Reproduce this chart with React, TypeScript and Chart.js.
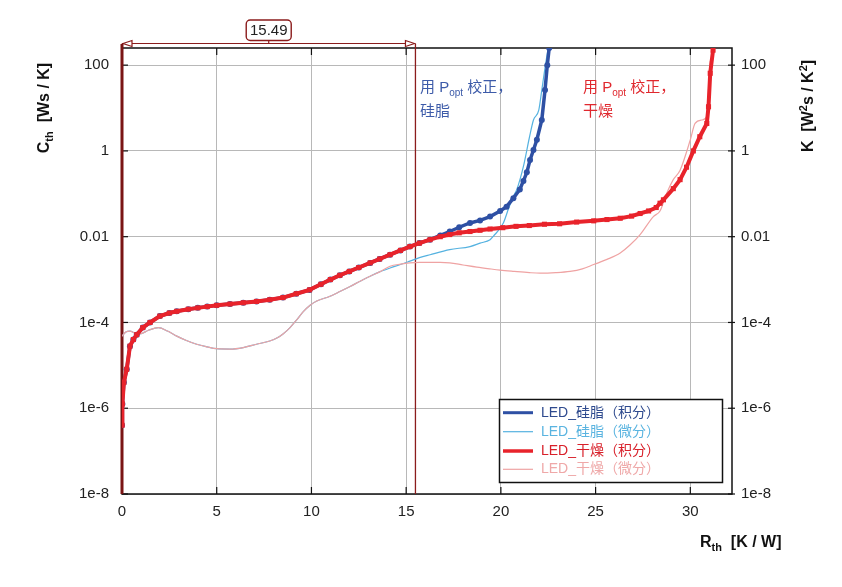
import React, { useEffect, useRef } from "react";
import { Chart, registerables } from "chart.js";
Chart.register(...registerables);

// ---- axes ----
const X_MIN = 0;
const X_MAX = 32.2;
const Y_MIN = 1e-8;
const Y_MAX = 251;
const X_TICKS = [0, 5, 10, 15, 20, 25, 30];
const Y_TICKS = [1e-8, 1e-6, 1e-4, 1e-2, 1, 100];
const Y_TICK_LABELS = ["1e-8", "1e-6", "1e-4", "0.01", "1", "100"];
const MARKER_X = 15.49;
const MARKER_LABEL = "15.49";

// ---- series names ----
const SERIES_NAMES = ["LED_硅脂（积分）", "LED_硅脂（微分）", "LED_干燥（积分）", "LED_干燥（微分）"];

// ---- LED 干燥 (积分) ----
const dryIntX = [0, 0.02, 0.1, 0.25, 0.42, 0.6, 0.78, 1.1, 1.48, 2.0, 2.5, 2.89, 3.5, 4.0, 4.5, 5.0, 5.7, 6.4, 7.1, 7.8, 8.5, 9.2, 9.9, 10.5, 11.0, 11.5, 12.0, 12.5, 13.1, 13.6, 14.15, 14.7, 15.2, 15.7, 16.26, 16.8, 17.3, 17.8, 18.37, 18.9, 19.43, 20.1, 20.8, 21.5, 22.3, 23.1, 24.0, 24.9, 25.6, 26.3, 26.9, 27.35, 27.8, 28.2, 28.4, 28.58, 29.1, 29.46, 29.8, 30.16, 30.5, 30.87, 30.96, 31.05, 31.2];
const dryIntY = [4e-7, 1.26e-6, 4e-6, 8.1e-6, 2.8e-5, 4e-5, 5.2e-5, 7.6e-5, 1e-4, 1.41e-4, 1.66e-4, 1.82e-4, 2.04e-4, 2.19e-4, 2.34e-4, 2.51e-4, 2.69e-4, 2.88e-4, 3.09e-4, 3.39e-4, 3.8e-4, 4.68e-4, 5.75e-4, 7.76e-4, 1e-3, 1.26e-3, 1.55e-3, 1.91e-3, 2.45e-3, 3.02e-3, 3.8e-3, 4.79e-3, 5.89e-3, 7.08e-3, 8.51e-3, 1e-2, 1.12e-2, 1.23e-2, 1.32e-2, 1.41e-2, 1.51e-2, 1.62e-2, 1.74e-2, 1.82e-2, 1.95e-2, 2e-2, 2.19e-2, 2.34e-2, 2.51e-2, 2.69e-2, 3.02e-2, 3.47e-2, 3.98e-2, 4.79e-2, 6.03e-2, 7.24e-2, 0.132, 0.214, 0.417, 1.0, 2.14, 4.37, 10.7, 64.6, 224];

// ---- LED 硅脂 (积分) ----
const greaseIntX = [0, 0.02, 0.1, 0.25, 0.42, 0.6, 0.78, 1.1, 1.48, 2.0, 2.5, 2.89, 3.5, 4.0, 4.5, 5.0, 5.7, 6.4, 7.1, 7.8, 8.5, 9.2, 9.9, 10.5, 11.0, 11.5, 12.0, 12.5, 13.1, 13.6, 14.15, 14.7, 15.2, 15.7, 16.26, 16.8, 17.3, 17.8, 18.37, 18.9, 19.43, 19.96, 20.3, 20.66, 21.0, 21.19, 21.37, 21.54, 21.72, 21.9, 22.16, 22.33, 22.45, 22.55];
const greaseIntY = [4e-7, 1.26e-6, 4e-6, 8.1e-6, 2.8e-5, 4e-5, 5.2e-5, 7.6e-5, 1e-4, 1.41e-4, 1.66e-4, 1.82e-4, 2.04e-4, 2.19e-4, 2.34e-4, 2.51e-4, 2.69e-4, 2.88e-4, 3.09e-4, 3.39e-4, 3.8e-4, 4.68e-4, 5.75e-4, 7.76e-4, 1e-3, 1.26e-3, 1.55e-3, 1.91e-3, 2.45e-3, 3.02e-3, 3.8e-3, 4.79e-3, 5.89e-3, 7.08e-3, 8.51e-3, 1.07e-2, 1.32e-2, 1.66e-2, 2.09e-2, 2.4e-2, 2.95e-2, 3.98e-2, 5.0e-2, 7.9e-2, 0.126, 0.2, 0.316, 0.617, 1.05, 1.82, 5.25, 26.3, 100, 251];

// ---- LED 硅脂 (微分) ----
const greaseDiffX = [0, 0.2, 0.42, 0.7, 0.95, 1.4, 1.92, 2.4, 2.89, 3.4, 3.94, 4.5, 5.0, 5.7, 6.4, 7.1, 7.8, 8.2, 8.5, 8.87, 9.2, 9.57, 9.93, 10.28, 10.98, 11.5, 12.04, 12.6, 13.1, 13.6, 14.15, 14.7, 15.2, 15.7, 16.26, 17.3, 18.37, 18.9, 19.43, 19.6, 20.13, 20.4, 20.66, 20.84, 21.19, 21.5, 21.72, 22.0, 22.16, 22.35, 22.5];
const greaseDiffY = [4.8e-5, 6.0e-5, 6.3e-5, 5.6e-5, 5.4e-5, 6.6e-5, 7.6e-5, 6.3e-5, 4.8e-5, 3.8e-5, 3.1e-5, 2.7e-5, 2.45e-5, 2.4e-5, 2.6e-5, 3.1e-5, 3.7e-5, 4.4e-5, 5.4e-5, 7.6e-5, 1.12e-4, 1.78e-4, 2.51e-4, 3.16e-4, 4.07e-4, 5.25e-4, 6.9e-4, 9.3e-4, 1.2e-3, 1.51e-3, 1.86e-3, 2.24e-3, 2.69e-3, 3.24e-3, 3.8e-3, 5.0e-3, 5.89e-3, 7.08e-3, 8.51e-3, 1.02e-2, 2.09e-2, 4.47e-2, 8.7e-2, 0.126, 0.437, 2.0, 5.25, 8.9, 26.3, 100, 251];

// ---- LED 干燥 (微分) ----
const dryDiffX = [0, 0.2, 0.42, 0.7, 0.95, 1.4, 1.92, 2.4, 2.89, 3.4, 3.94, 4.5, 5.0, 5.7, 6.4, 7.1, 7.8, 8.2, 8.5, 8.87, 9.2, 9.57, 9.93, 10.28, 10.98, 11.5, 12.04, 12.6, 13.1, 13.6, 14.15, 14.7, 15.2, 15.7, 16.26, 16.8, 17.3, 18.0, 18.73, 19.4, 19.96, 20.7, 21.5, 22.07, 22.9, 23.65, 24.3, 24.9, 25.6, 26.3, 26.8, 27.35, 28.05, 28.4, 28.76, 29.1, 29.46, 30.0, 30.25, 30.6, 30.87, 30.96, 31.05];
const dryDiffY = [4.8e-5, 6.0e-5, 6.3e-5, 5.6e-5, 5.4e-5, 6.6e-5, 7.6e-5, 6.3e-5, 4.8e-5, 3.8e-5, 3.1e-5, 2.7e-5, 2.45e-5, 2.4e-5, 2.6e-5, 3.1e-5, 3.7e-5, 4.4e-5, 5.4e-5, 7.6e-5, 1.12e-4, 1.78e-4, 2.51e-4, 3.16e-4, 4.07e-4, 5.25e-4, 6.9e-4, 9.3e-4, 1.2e-3, 1.51e-3, 2.04e-3, 2.29e-3, 2.45e-3, 2.51e-3, 2.51e-3, 2.51e-3, 2.45e-3, 2.19e-3, 1.95e-3, 1.78e-3, 1.66e-3, 1.55e-3, 1.45e-3, 1.41e-3, 1.45e-3, 1.55e-3, 1.78e-3, 2.24e-3, 2.95e-3, 4.17e-3, 6.3e-3, 1.12e-2, 2.95e-2, 3.98e-2, 0.105, 0.214, 0.355, 1.82, 4.37, 5.25, 6.3, 26.3, 126];

// ---- colours ----
const C_GREASE_INT = "#2E50A4";
const C_GREASE_DIFF = "#55B2E0";
const C_DRY_INT = "#E8232B";
const C_DRY_DIFF = "#EFA3A3";
const C_MARK = "#8B1C1C";

const SANS = '"Liberation Sans", Arial, "Noto Sans CJK SC", sans-serif';

const zip = (xs: number[], ys: number[]) => xs.map((x, i) => ({ x, y: ys[i] }));

type Part = { t: string; f: string; dy?: number };
function richWidth(ctx: CanvasRenderingContext2D, parts: Part[]) {
  let w = 0;
  for (const p of parts) {
    ctx.font = p.f;
    w += ctx.measureText(p.t).width;
  }
  return w;
}
function drawRich(ctx: CanvasRenderingContext2D, parts: Part[], x: number, y: number, color: string) {
  ctx.fillStyle = color;
  ctx.textBaseline = "middle";
  ctx.textAlign = "left";
  let cx = x;
  for (const p of parts) {
    ctx.font = p.f;
    ctx.fillText(p.t, cx, y + (p.dy || 0));
    cx += ctx.measureText(p.t).width;
  }
}
function line(ctx: CanvasRenderingContext2D, x1: number, y1: number, x2: number, y2: number) {
  ctx.beginPath();
  ctx.moveTo(x1, y1);
  ctx.lineTo(x2, y2);
  ctx.stroke();
}

const overlay = {
  id: "overlay",
  beforeDatasetsDraw(chart: any) {
    const { ctx, chartArea: a, scales } = chart;
    const x0 = scales.x.getPixelForValue(0);
    const xm = scales.x.getPixelForValue(MARKER_X);
    ctx.save();
    ctx.strokeStyle = "#111";
    ctx.lineWidth = 1.5;
    ctx.strokeRect(a.left, a.top, a.right - a.left, a.bottom - a.top);
    ctx.lineWidth = 1.2;
    for (const v of X_TICKS) {
      const px = scales.x.getPixelForValue(v);
      line(ctx, px, a.top, px, a.top + 7);
      line(ctx, px, a.bottom, px, a.bottom - 7);
    }
    for (const v of Y_TICKS) {
      const py = scales.y.getPixelForValue(v);
      line(ctx, a.left, py, a.left + 6, py);
      line(ctx, a.right - 4, py, a.right + 3, py);
    }
    ctx.strokeStyle = C_MARK;
    ctx.lineWidth = 1.3;
    line(ctx, xm, 44, xm, a.bottom);
    ctx.strokeStyle = "#7A1515";
    ctx.lineWidth = 3;
    line(ctx, x0, 44, x0, a.bottom);
    ctx.restore();
  },
  afterDraw(chart: any) {
    const { ctx, scales } = chart;
    const x0 = scales.x.getPixelForValue(0);
    const xm = scales.x.getPixelForValue(MARKER_X);
    ctx.save();

    // dimension arrow
    const ay = 43.5;
    ctx.strokeStyle = C_MARK;
    ctx.lineWidth = 1.2;
    line(ctx, x0, ay, xm, ay);
    ctx.fillStyle = "#fff";
    ctx.beginPath();
    ctx.moveTo(x0 + 1, ay);
    ctx.lineTo(x0 + 10, ay - 3);
    ctx.lineTo(x0 + 10, ay + 3);
    ctx.closePath();
    ctx.fill();
    ctx.stroke();
    ctx.beginPath();
    ctx.moveTo(xm - 1, ay);
    ctx.lineTo(xm - 10, ay - 3);
    ctx.lineTo(xm - 10, ay + 3);
    ctx.closePath();
    ctx.fill();
    ctx.stroke();
    const cx = (x0 + xm) / 2;
    const bw = 45, bh = 20.5, by = 20;
    ctx.beginPath();
    ctx.roundRect(cx - bw / 2, by, bw, bh, 4);
    ctx.fillStyle = "#fff";
    ctx.fill();
    ctx.lineWidth = 1.4;
    ctx.stroke();
    ctx.lineWidth = 1.2;
    line(ctx, cx, by + bh, cx, ay);
    ctx.fillStyle = "#222";
    ctx.font = "15px " + SANS;
    ctx.textAlign = "center";
    ctx.textBaseline = "middle";
    ctx.fillText(MARKER_LABEL, cx, by + bh / 2 + 0.5);

    // annotations
    const annFont = "15px " + SANS;
    const subFont = "10px " + SANS;
    const ann = (x: number, color: string, second: string) => {
      drawRich(ctx, [{ t: "用 P", f: annFont }, { t: "opt", f: subFont, dy: 5 }, { t: " 校正，", f: annFont }], x, 88, color);
      drawRich(ctx, [{ t: second, f: annFont }], x, 112, color);
    };
    ann(420, "#3D5BA9", "硅脂");
    ann(583, "#E0282E", "干燥");

    // axis titles
    const tb = "bold 16px " + SANS;
    const ts = "bold 11px " + SANS;
    const left: Part[] = [{ t: "C", f: tb }, { t: "th", f: ts, dy: 5 }, { t: "  [Ws / K]", f: tb }];
    ctx.save();
    ctx.translate(45, 108);
    ctx.rotate(-Math.PI / 2);
    drawRich(ctx, left, -richWidth(ctx, left) / 2, 0, "#111");
    ctx.restore();
    const right: Part[] = [{ t: "K  [W", f: tb }, { t: "2", f: ts, dy: -5 }, { t: "s / K", f: tb }, { t: "2", f: ts, dy: -5 }, { t: "]", f: tb }];
    ctx.save();
    ctx.translate(809, 106);
    ctx.rotate(-Math.PI / 2);
    drawRich(ctx, right, -richWidth(ctx, right) / 2, 0, "#111");
    ctx.restore();
    drawRich(ctx, [{ t: "R", f: tb }, { t: "th", f: ts, dy: 5 }, { t: "  [K / W]", f: tb }], 700, 543, "#111");

    // legend
    const lx = 499.5, ly = 399.5, lw = 223, lh = 83;
    ctx.fillStyle = "#fff";
    ctx.fillRect(lx, ly, lw, lh);
    ctx.strokeStyle = "#111";
    ctx.lineWidth = 1.5;
    ctx.strokeRect(lx, ly, lw, lh);
    const rows = [412.7, 431.7, 451, 469.3];
    const cols = [C_GREASE_INT, C_GREASE_DIFF, C_DRY_INT, C_DRY_DIFF];
    const txtCols = ["#2E4A8E", "#5AB4E0", "#D8202A", "#EFA8A8"];
    const widths = [3, 1.2, 3.5, 1.2];
    rows.forEach((ry, i) => {
      ctx.strokeStyle = cols[i];
      ctx.lineWidth = widths[i];
      line(ctx, 503, ry, 533, ry);
      drawRich(ctx, [{ t: SERIES_NAMES[i], f: "14px " + SANS }], 541, ry, txtCols[i]);
    });

    ctx.restore();
  },
};

export default function App() {
  const ref = useRef<HTMLCanvasElement | null>(null);
  useEffect(() => {
    if (!ref.current) return;
    const yLabel = (v: any) => {
      const i = Y_TICKS.findIndex((t) => Math.abs(Math.log10(t) - Math.log10(Number(v))) < 1e-6);
      return i >= 0 ? Y_TICK_LABELS[i] : "";
    };
    const tickFont = { family: SANS, size: 15 };
    const chart = new Chart(ref.current, {
      type: "line",
      data: {
        datasets: [
          {
            label: SERIES_NAMES[2],
            data: zip(dryIntX, dryIntY),
            borderColor: C_DRY_INT,
            backgroundColor: C_DRY_INT,
            borderWidth: 4,
            pointStyle: "rect",
            pointRadius: 3.6,
            pointBorderWidth: 0,
            order: 0,
          },
          {
            label: SERIES_NAMES[0],
            data: zip(greaseIntX, greaseIntY),
            borderColor: C_GREASE_INT,
            backgroundColor: C_GREASE_INT,
            borderWidth: 3.5,
            pointStyle: "circle",
            pointRadius: 3,
            pointBorderWidth: 0,
            order: 1,
          },
          {
            label: SERIES_NAMES[3],
            data: zip(dryDiffX, dryDiffY),
            borderColor: C_DRY_DIFF,
            borderWidth: 1.2,
            pointRadius: 0,
            cubicInterpolationMode: "monotone",
            order: 2,
          },
          {
            label: SERIES_NAMES[1],
            data: zip(greaseDiffX, greaseDiffY),
            borderColor: C_GREASE_DIFF,
            borderWidth: 1.2,
            pointRadius: 0,
            cubicInterpolationMode: "monotone",
            order: 3,
          },
        ],
      },
      options: {
        responsive: false,
        animation: false,
        layout: { padding: { top: 48, left: 0, right: 0, bottom: 0 } },
        plugins: { legend: { display: false }, tooltip: { enabled: false } },
        scales: {
          x: {
            type: "linear",
            min: X_MIN,
            max: X_MAX,
            afterBuildTicks: (s: any) => {
              s.ticks = X_TICKS.map((v) => ({ value: v }));
            },
            afterFit: (s: any) => {
              s.height = 93;
            },
            grid: { color: "#b8b8b8", lineWidth: 1, drawTicks: false },
            border: { display: false },
            ticks: { padding: 9, font: tickFont, color: "#222", maxRotation: 0, autoSkip: false, callback: (v: any) => String(v) },
          },
          y: {
            type: "logarithmic",
            position: "left",
            min: Y_MIN,
            max: Y_MAX,
            afterBuildTicks: (s: any) => {
              s.ticks = Y_TICKS.map((v) => ({ value: v }));
            },
            afterFit: (s: any) => {
              s.width = 122;
            },
            grid: { color: "#b8b8b8", lineWidth: 1, drawTicks: false },
            border: { display: false },
            ticks: { padding: 13, font: tickFont, color: "#222", autoSkip: false, callback: yLabel },
          },
          y2: {
            type: "logarithmic",
            position: "right",
            min: Y_MIN,
            max: Y_MAX,
            afterBuildTicks: (s: any) => {
              s.ticks = Y_TICKS.map((v) => ({ value: v }));
            },
            afterFit: (s: any) => {
              s.width = 110;
            },
            grid: { display: false, drawTicks: false },
            border: { display: false },
            ticks: { padding: 9, font: tickFont, color: "#222", autoSkip: false, callback: yLabel },
          },
        },
      },
      plugins: [overlay],
    } as any);
    return () => chart.destroy();
  }, []);
  return (
    <div style={{ position: "fixed", left: 0, top: 0, width: 842, height: 587, background: "#fff" }}>
      <canvas ref={ref} width={842} height={587} />
    </div>
  );
}
